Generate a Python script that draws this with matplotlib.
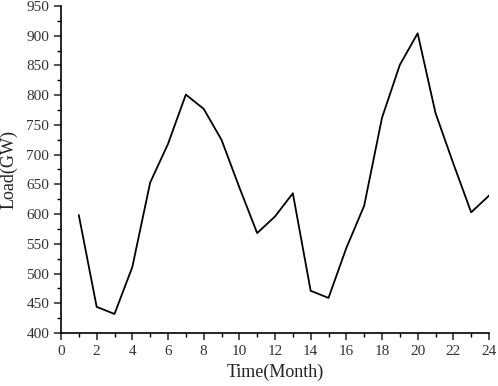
import matplotlib
matplotlib.use("Agg")
import matplotlib.pyplot as plt
from matplotlib.ticker import MultipleLocator

# monthly load
months = list(range(1, 25))
load = [598, 444, 432, 511, 653, 718, 801, 777, 725, 645, 568, 596,
        635, 471, 459, 543, 614, 762, 851, 904, 770, 685, 603, 631]

plt.rcParams['font.family'] = ['Liberation Serif', 'DejaVu Serif']

fig = plt.figure(figsize=(4.98, 3.86), dpi=100)
ax = fig.add_axes([61 / 498, 1 - 333 / 386, 428 / 498, 327 / 386])

ax.plot(months, load, color='black', linewidth=1.3)

ax.set_xlim(0, 24)
ax.set_ylim(400, 950)
ax.xaxis.set_major_locator(MultipleLocator(2))
ax.xaxis.set_minor_locator(MultipleLocator(1))
ax.yaxis.set_major_locator(MultipleLocator(50))
ax.yaxis.set_minor_locator(MultipleLocator(25))

ax.spines['top'].set_visible(False)
ax.spines['right'].set_visible(False)
for s in ('left', 'bottom'):
    ax.spines[s].set_linewidth(1.2)

ax.tick_params(which='major', direction='out', length=5, width=1.2,
               labelsize=11, colors='#333333', labelcolor='#333333')
ax.tick_params(which='minor', direction='out', length=3, width=1.0)

ax.set_xlabel("Time(Month)", fontsize=13, color='#222222', labelpad=4)
ax.set_ylabel("Load(GW)", fontsize=13, color='#222222', labelpad=6)

fig.savefig("out.png", dpi=100)
